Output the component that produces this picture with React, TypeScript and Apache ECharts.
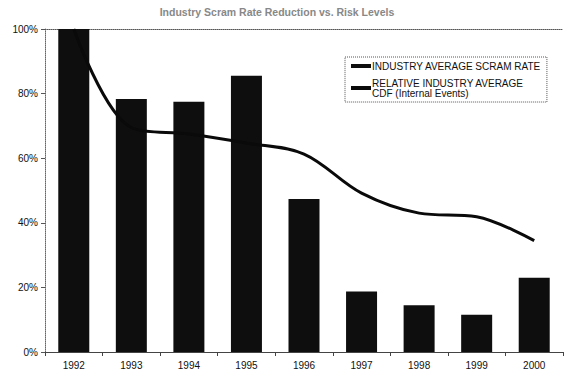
import React, { useEffect, useRef } from "react";
import * as echarts from "echarts";

const years = ["1992", "1993", "1994", "1995", "1996", "1997", "1998", "1999", "2000"];
const scramRate = [100, 78.3, 77.5, 85.5, 47.4, 18.7, 14.5, 11.5, 23];
const relativeCdf = [100, 69.5, 67.5, 64.7, 61.3, 49.2, 43, 41.9, 34.5];
const yTicks = [0, 20, 40, 60, 80, 100];

const titleText = "Industry Scram Rate Reduction vs. Risk Levels";
const barName = "INDUSTRY AVERAGE SCRAM RATE";
const lineName = "RELATIVE INDUSTRY AVERAGE\nCDF (Internal Events)";

const FONT = "'Liberation Sans', Arial, sans-serif";

export default function App() {
  const ref = useRef<HTMLDivElement>(null);

  useEffect(() => {
    if (!ref.current) return;
    const chart = echarts.init(ref.current, null, { renderer: "svg" });
    chart.setOption({
      animation: false,
      backgroundColor: "#ffffff",
      textStyle: { fontFamily: FONT },
      title: {
        text: titleText,
        left: 272,
        top: 1,
        textAlign: "center",
        textStyle: { fontSize: 10.5, fontWeight: "bold", color: "#888", fontFamily: FONT },
      },
      legend: {
        orient: "vertical",
        left: 345,
        top: 57,
        width: 200,
        padding: [4, 6, 4, 6],
        itemGap: 7,
        borderColor: "#555",
        borderWidth: 1,
        borderType: "dotted",
        itemWidth: 20,
        itemHeight: 4,
        textStyle: { fontSize: 10, color: "#111", fontFamily: FONT, padding: [0, 0, 0, -4] },
        data: [
          { name: barName, icon: "rect" },
          { name: lineName, icon: "rect" },
        ],
      },
      grid: { left: 45, right: 9, top: 29, bottom: 25 },
      xAxis: [
        {
          type: "category",
          data: years,
          axisLine: { lineStyle: { color: "#444", width: 1 } },
          axisTick: { show: true, length: 4, lineStyle: { color: "#444" } },
          axisLabel: { color: "#111", fontSize: 10, margin: 8, fontFamily: FONT },
        },
        {
          type: "category",
          data: years,
          position: "top",
          axisLine: { lineStyle: { color: "#555", type: "dotted", width: 1 } },
          axisTick: { show: false },
          axisLabel: { show: false },
        },
      ],
      yAxis: {
        type: "value",
        min: yTicks[0],
        max: yTicks[yTicks.length - 1],
        interval: 20,
        axisLine: { show: true, lineStyle: { color: "#666", type: "dotted" } },
        axisTick: { show: true, length: 4, lineStyle: { color: "#555" } },
        splitLine: { show: false },
        axisLabel: {
          color: "#111",
          fontSize: 10,
          margin: 7,
          fontFamily: FONT,
          formatter: (v: number) => `${v}%`,
        },
      },
      series: [
        {
          name: barName,
          type: "bar",
          data: scramRate,
          barWidth: 31,
          itemStyle: { color: "#0e0e0e" },
        },
        {
          name: lineName,
          type: "line",
          data: relativeCdf,
          smooth: 0.35,
          showSymbol: false,
          symbol: "none",
          z: 5,
          lineStyle: { color: "#0a0a0a", width: 3 },
          itemStyle: { color: "#0a0a0a" },
        },
      ],
    });
    return () => chart.dispose();
  }, []);

  return (
    <div
      ref={ref}
      style={{ position: "fixed", left: 0, top: 0, width: 572, height: 377 }}
    />
  );
}
